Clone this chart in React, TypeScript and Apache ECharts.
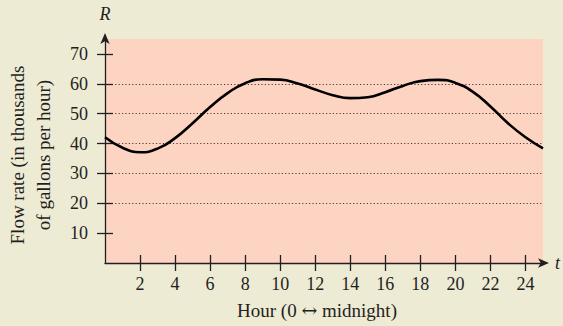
import React, { useEffect, useRef } from "react";
import * as echarts from "echarts";

const hours = [0, 1, 2, 3, 4, 5, 6, 7, 8, 9, 10, 11, 12, 13, 14, 15, 16, 17, 18, 19, 20, 21, 22, 23, 24, 25];
const rates = [42.1, 38.6, 37.1, 38.3, 41.8, 46.8, 52.2, 56.9, 60.2, 61.5, 61.4, 60.1, 58.1, 56.2, 55.2, 55.5, 57.2, 59.3, 60.9, 61.3, 60.3, 57.3, 52.4, 46.8, 42.1, 38.4];
const xTicks = [2, 4, 6, 8, 10, 12, 14, 16, 18, 20, 22, 24];
const yTicks = [10, 20, 30, 40, 50, 60, 70];
const xMax = 25;
const yMax = 75;

const FONT = "'Liberation Serif', 'DejaVu Serif', serif";
const INK = "#231f20";

export default function App() {
  const ref = useRef<HTMLDivElement>(null);
  useEffect(() => {
    if (!ref.current) return;
    const chart = echarts.init(ref.current, null, { renderer: "svg" });
    const commonX = {
      type: "value" as const,
      min: 0,
      max: xMax,
      interval: 2,
    };
    const commonY = {
      type: "value" as const,
      min: 0,
      max: yMax,
      interval: 10,
    };
    chart.setOption({
      animation: false,
      backgroundColor: "#eeebd5",
      grid: {
        left: 105,
        right: 20,
        top: 39,
        bottom: 63,
        show: true,
        backgroundColor: "#fdd4c2",
        borderWidth: 0,
      },
      xAxis: [
        {
          ...commonX,
          position: "bottom",
          axisLine: {
            show: true,
            onZero: false,
            symbol: ["none", "arrow"],
            symbolSize: [7, 11],
            symbolOffset: [0, 6],
            lineStyle: { color: INK, width: 1.3 },
          },
          axisTick: { show: true, customValues: xTicks, length: 8, lineStyle: { color: INK, width: 1.3 } },
          axisLabel: {
            customValues: xTicks,
            margin: 12,
            color: INK,
            fontFamily: FONT,
            fontSize: 18,
          },
          splitLine: { show: false },
          name: "t",
          nameLocation: "end",
          nameGap: 12,
          nameTextStyle: { fontFamily: FONT, fontStyle: "italic", fontSize: 18, color: INK },
        },
        {
          ...commonX,
          position: "bottom",
          offset: 0,
          axisLine: { show: false },
          axisTick: { show: true, inside: true, customValues: xTicks, length: 8, lineStyle: { color: INK, width: 1.3 } },
          axisLabel: { show: false },
          splitLine: { show: false },
        },
      ],
      yAxis: [
        {
          ...commonY,
          position: "left",
          axisLine: {
            show: true,
            onZero: false,
            symbol: ["none", "arrow"],
            symbolSize: [7, 11],
            symbolOffset: [0, 6],
            lineStyle: { color: INK, width: 1.3 },
          },
          axisTick: { show: true, customValues: yTicks, length: 8, lineStyle: { color: INK, width: 1.3 } },
          axisLabel: {
            customValues: yTicks,
            margin: 17,
            color: INK,
            fontFamily: FONT,
            fontSize: 18,
          },
          splitLine: {
            show: true,
            showMinLine: false,
            showMaxLine: false,
            lineStyle: { color: "#4a3a36", type: [1.2, 2.2], width: 1 },
          },
          name: "R",
          nameLocation: "end",
          nameGap: 16,
          nameTextStyle: { fontFamily: FONT, fontStyle: "italic", fontSize: 18, color: INK, align: "center" },
        },
        {
          ...commonY,
          position: "left",
          offset: 0,
          axisLine: { show: false },
          axisTick: { show: true, inside: true, customValues: yTicks, length: 8, lineStyle: { color: INK, width: 1.3 } },
          axisLabel: { show: false },
          splitLine: { show: false },
        },
      ],
      graphic: [
        {
          type: "text",
          x: 30,
          y: 155,
          rotation: Math.PI / 2,
          style: {
            text: "Flow rate (in thousands\nof gallons per hour)",
            fontFamily: FONT,
            fontSize: 19,
            lineHeight: 26,
            fill: INK,
            align: "center",
            verticalAlign: "middle",
          },
        },
        {
          type: "text",
          x: 317,
          y: 310,
          style: {
            text: "Hour (0 {a|\u2194} midnight)",
            fontFamily: FONT,
            fontSize: 19,
            fill: INK,
            align: "center",
            verticalAlign: "middle",
            rich: {
              a: { fontFamily: "'DejaVu Serif', serif", fontSize: 19, fill: INK },
            },
          },
        },
      ],
      series: [
        {
          type: "line",
          xAxisIndex: 0,
          yAxisIndex: 0,
          data: hours.map((h, i) => [h, rates[i]]),
          smooth: 0.5,
          showSymbol: false,
          lineStyle: { color: "#000", width: 2.6 },
          clip: false,
        },
      ],
    });
    return () => chart.dispose();
  }, []);
  return <div ref={ref} style={{ width: 563, height: 326, position: "absolute", left: 0, top: 0 }} />;
}
